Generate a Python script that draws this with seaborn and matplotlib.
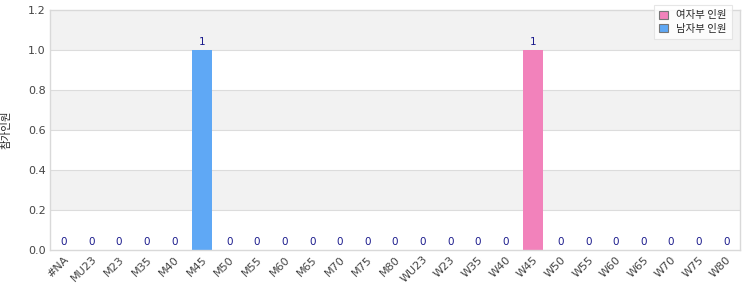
import matplotlib
matplotlib.use("Agg")
import matplotlib.pyplot as plt
import seaborn as sns
import pandas as pd
from matplotlib.patches import Patch

categories = ["#NA", "MU23", "M23", "M35", "M40", "M45", "M50", "M55", "M60", "M65",
              "M70", "M75", "M80", "WU23", "W23", "W35", "W40", "W45", "W50", "W55",
              "W60", "W65", "W70", "W75", "W80"]
values = [0, 0, 0, 0, 0, 1, 0, 0, 0, 0, 0, 0, 0, 0, 0, 0, 0, 1, 0, 0, 0, 0, 0, 0, 0]
groups = ["남자부 인원"] * 13 + ["여자부 인원"] * 12
legend_labels = ["여자부 인원", "남자부 인원"]
y_label = "참가인원"
y_ticks = [0.0, 0.2, 0.4, 0.6, 0.8, 1.0, 1.2]

palette = {"여자부 인원": "#f282bb", "남자부 인원": "#5fa8f5"}

sns.set_theme(style="white")
plt.rcParams['font.family'] = ['DejaVu Sans', 'Noto Sans CJK KR']

df = pd.DataFrame({"cat": categories, "val": values, "grp": groups})

fig = plt.figure(figsize=(7.5, 3), dpi=100)
ax = fig.add_axes([50/750, 50/300, 690/750, 240/300])

# alternating bands
for i in range(len(y_ticks) - 1):
    if i % 2 == 1:
        ax.axhspan(y_ticks[i], y_ticks[i + 1], color="#f2f2f2", zorder=0, lw=0)
for t in y_ticks[1:-1]:
    ax.axhline(t, color="#dcdcdc", lw=0.8, zorder=0.5)

sns.barplot(data=df, x="cat", y="val", hue="grp", palette=palette, dodge=False,
            width=0.72, ax=ax, legend=False, zorder=2, saturation=1, order=categories,
            linewidth=0, edgecolor="none")

for i, v in enumerate(values):
    ax.text(i, v + 0.015, f"{v}", ha="center", va="bottom", fontsize=7.5,
            color="#1a1a8c", zorder=3)

ax.set_ylim(0, 1.2)
ax.set_xlim(-0.5, len(categories) - 0.5)
ax.set_yticks(y_ticks)
ax.set_yticklabels([f"{t:.1f}" for t in y_ticks], fontsize=8, color="#444444")
ax.set_xticks(range(len(categories)))
ax.set_xticklabels(categories, rotation=45, ha="right", rotation_mode="anchor",
                   fontsize=8, color="#444444")
ax.tick_params(axis="both", length=0, pad=3)
ax.set_xlabel("")
ax.set_ylabel(y_label, fontsize=7.5, color="#222222", family=['Noto Sans CJK KR', 'DejaVu Sans'])
ax.yaxis.set_label_coords(-0.056, 0.5)
for s in ax.spines.values():
    s.set_color("#d9d9d9")
    s.set_linewidth(1)

handles = [Patch(facecolor=palette[l], edgecolor="#777777", lw=0.8) for l in legend_labels]
leg = fig.legend(handles, legend_labels, loc="upper right", bbox_to_anchor=(737/750, 1.0),
                 frameon=True, fancybox=False, handlelength=0.8,
                 handleheight=0.8, borderpad=0.5, labelspacing=0.3, handletextpad=0.8,
                 prop={'family': ['Noto Sans CJK KR', 'DejaVu Sans'], 'size': 7.5})
leg.get_frame().set_edgecolor("#e0e0e0")
leg.get_frame().set_linewidth(0.8)

fig.savefig("out.png", dpi=100)
